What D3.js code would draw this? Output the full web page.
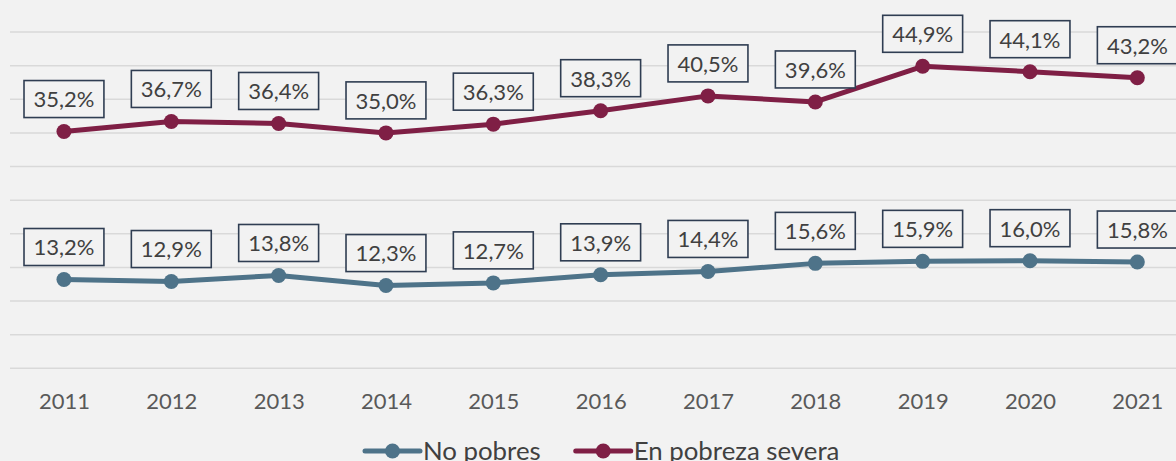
<!DOCTYPE html>
<html>
<head>
<meta charset="utf-8">
<script src="https://cdn.jsdelivr.net/npm/d3@7"></script>
<style>
  html, body { margin: 0; padding: 0; background: #f2f2f2; overflow: hidden; }
  svg { display: block; font-family: Lato, "Open Sans", sans-serif; }
</style>
</head>
<body>
<svg id="chart" width="1176" height="461"></svg>
<script>
// data
const years = ['2011', '2012', '2013', '2014', '2015', '2016', '2017', '2018', '2019', '2020', '2021'];
const noPobres = [13.2, 12.9, 13.8, 12.3, 12.7, 13.9, 14.4, 15.6, 15.9, 16.0, 15.8];
const pobrezaSevera = [35.2, 36.7, 36.4, 35.0, 36.3, 38.3, 40.5, 39.6, 44.9, 44.1, 43.2];
const yTicks = [0, 5, 10, 15, 20, 25, 30, 35, 40, 45, 50];

const series = [
  { name: 'No pobres', values: noPobres, color: '#4e7389' },
  { name: 'En pobreza severa', values: pobrezaSevera, color: '#7f1f45' }
];

const svg = d3.select('#chart');

const x = d3.scalePoint()
  .domain(years)
  .range([10.3, 1191])
  .padding(0.5);

const y = d3.scaleLinear()
  .domain([0, 50])
  .range([368.3, 32]);

// gridlines
svg.append('g')
  .selectAll('line')
  .data(yTicks)
  .join('line')
  .attr('x1', 10)
  .attr('x2', 1176)
  .attr('y1', d => y(d))
  .attr('y2', d => y(d))
  .attr('stroke', '#d9d9d9')
  .attr('stroke-width', 1.5);

// x axis labels
const xAxis = svg.append('g')
  .attr('transform', 'translate(0,393)')
  .call(d3.axisBottom(x).tickSize(0).tickPadding(0));
xAxis.select('.domain').remove();
xAxis.selectAll('text')
  .attr('fill', '#595959')
  .attr('font-size', '22px')
  .attr('font-family', 'Lato, "Open Sans", sans-serif')
  .attr('dy', '0.71em');

const line = d3.line()
  .x((d, i) => x(years[i]))
  .y(d => y(d));

series.forEach(s => {
  const g = svg.append('g');
  g.append('path')
    .datum(s.values)
    .attr('d', line)
    .attr('fill', 'none')
    .attr('stroke', s.color)
    .attr('stroke-width', 5)
    .attr('stroke-linejoin', 'round');
  g.selectAll('circle')
    .data(s.values)
    .join('circle')
    .attr('cx', (d, i) => x(years[i]))
    .attr('cy', d => y(d))
    .attr('r', 7.5)
    .attr('fill', s.color);

  // data labels
  const lab = g.selectAll('g.lab')
    .data(s.values)
    .join('g')
    .attr('class', 'lab')
    .attr('transform', (d, i) => `translate(${x(years[i])},${y(d) - 32.5})`);
  lab.append('rect')
    .attr('fill', '#f2f2f2')
    .attr('stroke', '#2f3d52')
    .attr('stroke-width', 1.6);
  const texts = lab.append('text')
    .attr('text-anchor', 'middle')
    .attr('dy', '0.38em')
    .attr('fill', '#404040')
    .attr('font-size', '22px')
    .text(d => d.toFixed(1).replace('.', ',') + '%');
  texts.each(function () {
    const w = this.getComputedTextLength();
    d3.select(this.previousSibling)
      .attr('x', -w / 2 - 9.5)
      .attr('y', -18.5)
      .attr('width', w + 19)
      .attr('height', 37);
  });
});

// legend
const legend = svg.append('g').attr('transform', 'translate(365,451)');
let lx = 0;
series.forEach(s => {
  const item = legend.append('g').attr('transform', `translate(${lx},0)`);
  item.append('line')
    .attr('x1', 0).attr('x2', 55)
    .attr('stroke', s.color)
    .attr('stroke-width', 5)
    .attr('stroke-linecap', 'round');
  item.append('circle')
    .attr('cx', 27.5)
    .attr('r', 7.5)
    .attr('fill', s.color);
  const t = item.append('text')
    .attr('x', 58)
    .attr('y', 8.5)
    .attr('fill', '#404040')
    .attr('font-size', '25.8px')
    .text(s.name);
  lx += 58 + t.node().getComputedTextLength() + 35;
});
</script>
</body>
</html>
